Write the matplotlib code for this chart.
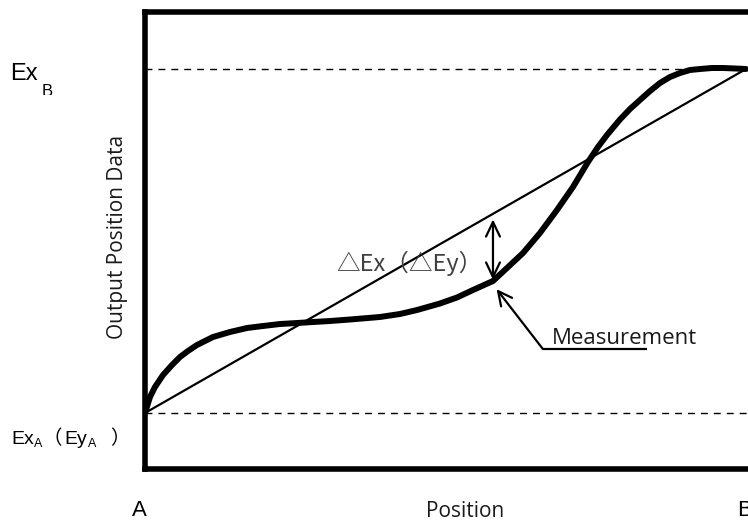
import numpy as np
import matplotlib.pyplot as plt
from matplotlib.patches import FancyArrowPatch
from matplotlib.transforms import Bbox

# positions along the axis (A = 0, B = 1) and output data (Ex_A = 0, Ex_B = 1)
pos_meas = [0.0, 0.0083, 0.0166, 0.0300, 0.0449, 0.0582, 0.0715, 0.0865, 0.1131,
            0.1414, 0.1697, 0.1963, 0.2246, 0.2529, 0.2795, 0.3078, 0.3411, 0.3910,
            0.4243, 0.4526, 0.4908, 0.5191, 0.5458, 0.5790, 0.6023, 0.6290, 0.6572,
            0.6855, 0.7121, 0.7371, 0.7537, 0.7687, 0.7903, 0.8070, 0.8236, 0.8403,
            0.8569, 0.8735, 0.8902, 0.9068, 0.9235, 0.9434, 0.9617, 0.9817, 1.0]
out_meas = [0.0, 0.0465, 0.0756, 0.1105, 0.1395, 0.1628, 0.1802, 0.1977, 0.2209,
            0.2355, 0.2471, 0.2529, 0.2587, 0.2616, 0.2645, 0.2674, 0.2718, 0.2791,
            0.2878, 0.2994, 0.3183, 0.3358, 0.3576, 0.3837, 0.4215, 0.4651, 0.5233,
            0.5901, 0.6570, 0.7297, 0.7733, 0.8081, 0.8532, 0.8837, 0.9099, 0.9360,
            0.9593, 0.9767, 0.9884, 0.9971, 1.0, 1.0029, 1.0029, 1.0015, 1.0]
pos_ideal = [0.0, 1.0]
out_ideal = [0.0, 1.0]
levels = [0.0, 1.0]          # Ex_A, Ex_B
delta_idx = 23               # point where the error arrow is drawn
meas_tip = (0.585, 0.360)
meas_tail = (0.662, 0.186)
meas_underline_end = 0.835

W, H = 748, 521
fig = plt.figure(figsize=(W / 100, H / 100), dpi=100)

def px(x, y):
    return x / W, 1 - y / H

# axes box runs past the right edge of the picture
ax = fig.add_axes([145 / W, (H - 469) / H, (780 - 145) / W, (469 - 12) / H])
ax.set_xlim(0, (780 - 145) / 601)
ax.set_ylim(-(469 - 413) / 344, 1 + (69 - 12) / 344)
ax.set_xticks([])
ax.set_yticks([])
for s in ax.spines.values():
    s.set_linewidth(4)
    s.set_color('black')

for lv in levels:
    ax.axhline(lv, color='black', lw=1.0, dashes=(5, 4.3), zorder=1)

ax.plot(pos_ideal, out_ideal, color='black', lw=1.6, zorder=2)
ax.plot(pos_meas, out_meas, color='black', lw=4.3, solid_joinstyle='round',
        solid_capstyle='round', zorder=3)

# error arrow between ideal line and measurement
xd = pos_meas[delta_idx]
arr = FancyArrowPatch((xd, out_meas[delta_idx]), (xd, np.interp(xd, pos_ideal, out_ideal)),
                      arrowstyle='<->,head_length=10.5,head_width=5', mutation_scale=1,
                      lw=1.6, color='black', shrinkA=1, shrinkB=4, zorder=4)
ax.add_patch(arr)

# measurement leader
arr2 = FancyArrowPatch(meas_tail, meas_tip, arrowstyle='->,head_length=10,head_width=5',
                       mutation_scale=1, lw=1.6, color='black', shrinkA=0, shrinkB=0,
                       zorder=4)
ax.add_patch(arr2)
ax.plot([meas_tail[0], meas_underline_end], [meas_tail[1], meas_tail[1]],
        color='black', lw=1.6, solid_capstyle='butt', zorder=4)

cjk = ['Noto Sans CJK JP', 'DejaVu Sans']
body = 'Open Sans'

ax.text(0.677, 0.20, 'Measurement', fontsize=16, family=body, color='#1a1a1a',
        va='baseline', ha='left')
fig.text(*px(336, 263), '△Ex（△Ey）', fontsize=17, family=cjk, color='#404040',
         va='center', ha='left')

# left-hand labels
fig.text(*px(10, 80), 'Ex', fontsize=17, family='Liberation Sans', va='baseline', ha='left')
tb = fig.text(*px(42, 84), 'B', fontsize=12, family='Liberation Sans', va='top', ha='left')
tb.set_clip_box(Bbox.from_extents(0, H - 95, 100, H))
tb.set_clip_on(True)

fig.text(*px(11, 444), 'Ex', fontsize=14, family='Liberation Sans', va='baseline', ha='left')
fig.text(*px(34, 447), 'A', fontsize=9, family='Liberation Sans', va='baseline', ha='left')
fig.text(*px(43, 444), '（', fontsize=14, family=cjk, va='baseline', ha='left')
fig.text(*px(64, 444), 'Ey', fontsize=14, family='Liberation Sans', va='baseline', ha='left')
fig.text(*px(88, 447), 'A', fontsize=9, family='Liberation Sans', va='baseline', ha='left')
fig.text(*px(110, 444), '）', fontsize=14, family=cjk, va='baseline', ha='left')

fig.text(*px(118, 237), 'Output Position Data', fontsize=15, family=body, rotation=90,
         va='center', ha='center', color='#1a1a1a')

# bottom labels
fig.text(*px(139.5, 516), 'A', fontsize=16, family='Liberation Sans', va='baseline', ha='center')
fig.text(*px(465, 517), 'Position', fontsize=15, family=body, va='baseline', ha='center',
         color='#1a1a1a')
fig.text(*px(737, 516), 'B', fontsize=16, family='Liberation Sans', va='baseline', ha='left')

fig.savefig('out.png', dpi=100)
